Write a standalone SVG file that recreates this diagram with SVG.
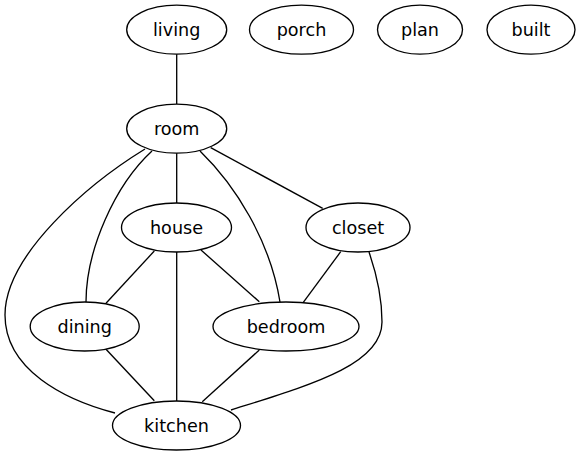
<svg xmlns="http://www.w3.org/2000/svg" width="581" height="456" viewBox="0 0 581 456">
<style>
.n ellipse{fill:none;stroke:#000;stroke-width:1.33}
.n text{font-family:"DejaVu Sans",Verdana,sans-serif;font-size:17.6px;text-anchor:middle;fill:#000}
#edges path{fill:none;stroke:#000;stroke-width:1.33}
</style>
<rect width="581" height="456" fill="#fff"/>
<g id="edges">
<path d="M176.7,54.2 L176.7,104"/>
<path d="M145,149 C88,184 5,255 5,315 C5,370 65,400 115,413"/>
<path d="M152,151 C115,185 86,250 86,302"/>
<path d="M176.7,153.2 L176.7,203"/>
<path d="M200,151 C235,185 270,240 280,302"/>
<path d="M210.7,147.7 L322.7,208.3"/>
<path d="M154.3,251 L106,303.3"/>
<path d="M176.7,252 L176.7,401"/>
<path d="M201,250 L259.3,301.7"/>
<path d="M340.7,251.7 L303.3,302.3"/>
<path d="M369,252 C378,278 382,300 382,322 C382,365 310,385 231,410"/>
<path d="M106,349.3 L154.3,400.7"/>
<path d="M259.3,350 L202.3,401.7"/>
</g>
<g id="living" class="n"><ellipse cx="176.7" cy="29.7" rx="50" ry="24.5"/><text x="176.7" y="35.7">living</text></g>
<g id="porch" class="n"><ellipse cx="301.5" cy="29.7" rx="52" ry="24.5"/><text x="301.5" y="35.7">porch</text></g>
<g id="plan" class="n"><ellipse cx="420" cy="29.7" rx="42.5" ry="24.5"/><text x="420" y="35.7">plan</text></g>
<g id="built" class="n"><ellipse cx="531" cy="29.7" rx="44" ry="24.5"/><text x="531" y="35.7">built</text></g>
<g id="room" class="n"><ellipse cx="176.7" cy="128.7" rx="50" ry="24.5"/><text x="176.7" y="134.7">room</text></g>
<g id="house" class="n"><ellipse cx="176.5" cy="227.5" rx="55" ry="24.5"/><text x="176.5" y="233.5">house</text></g>
<g id="closet" class="n"><ellipse cx="358" cy="227.5" rx="52" ry="24.5"/><text x="358" y="233.5">closet</text></g>
<g id="dining" class="n"><ellipse cx="84.7" cy="326.5" rx="54.5" ry="24.5"/><text x="84.7" y="332.5">dining</text></g>
<g id="bedroom" class="n"><ellipse cx="286" cy="326.5" rx="73" ry="24.5"/><text x="286" y="332.5">bedroom</text></g>
<g id="kitchen" class="n"><ellipse cx="176.5" cy="425.5" rx="64" ry="24.5"/><text x="176.5" y="431.5">kitchen</text></g>
</svg>
